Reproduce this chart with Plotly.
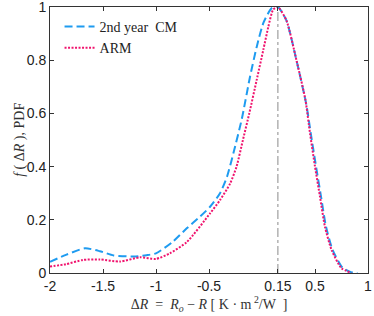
import plotly.graph_objects as go

cm_x = [-2.0, -1.85, -1.67, -1.53, -1.40, -1.21, -1.09, -1.0, -0.84, -0.71, -0.585, -0.49, -0.396,
        -0.33, -0.27, -0.19, -0.113, -0.05, 0.013, 0.09, 0.15, 0.23, 0.325, 0.42, 0.46, 0.51,
        0.557, 0.604, 0.667, 0.76, 0.84, 0.90]
cm_y = [0.042, 0.068, 0.093, 0.082, 0.066, 0.062, 0.067, 0.074, 0.118, 0.168, 0.212, 0.249, 0.30,
        0.362, 0.45, 0.58, 0.738, 0.85, 0.94, 0.995, 1.0, 0.95, 0.80, 0.63, 0.525, 0.40,
        0.287, 0.174, 0.086, 0.02, 0.003, 0.0]

arm_x = [-2.0, -1.85, -1.69, -1.53, -1.34, -1.15, -1.0, -0.87, -0.71, -0.49, -0.396, -0.30,
         -0.24, -0.18, -0.12, -0.05, 0.013, 0.06, 0.105, 0.15, 0.23, 0.325, 0.41, 0.453, 0.50,
         0.547, 0.594, 0.657, 0.75, 0.845]
arm_y = [0.024, 0.033, 0.049, 0.051, 0.043, 0.059, 0.053, 0.074, 0.116, 0.224, 0.274, 0.337,
         0.40, 0.50, 0.60, 0.726, 0.84, 0.926, 0.99, 1.0, 0.95, 0.80, 0.65, 0.525, 0.40,
         0.287, 0.174, 0.086, 0.018, 0.0]

peak_x = 0.15
x_ticks = [-2, -1.5, -1, -0.5, 0.15, 0.5, 1]
x_tick_text = ["-2", "-1.5", "-1", "-0.5", "0.15", "0.5", "1"]
y_ticks = [0, 0.2, 0.4, 0.6, 0.8, 1]
y_tick_text = ["0", "0.2", "0.4", "0.6", "0.8", "1"]

fig = go.Figure()
fig.add_trace(go.Scatter(x=[peak_x, peak_x], y=[0, 1], mode="lines",
                         line=dict(color="#8a8a8a", width=1, dash="dashdot"),
                         showlegend=False, hoverinfo="skip"))
fig.add_trace(go.Scatter(x=cm_x, y=cm_y, mode="lines", name="2nd year  CM",
                         line=dict(color="#1E9BF0", width=2, dash="8px,4px", shape="spline", smoothing=0.6)))
fig.add_trace(go.Scatter(x=arm_x, y=arm_y, mode="lines", name="ARM",
                         line=dict(color="#F0146E", width=2, dash="2px,1.5px", shape="spline", smoothing=0.6)))

axis_common = dict(showgrid=False, zeroline=False, showline=True, linecolor="#333333", linewidth=1,
                   mirror="ticks", ticks="inside", ticklen=4, tickcolor="#333333",
                   ticklabeloverflow="allow", automargin=False,
                   tickfont=dict(family="Liberation Sans, Arial", size=14, color="#222222"))

serif = "Liberation Serif, Times New Roman"
fig.update_layout(
    width=374, height=316,
    margin=dict(l=50, r=6, t=7, b=43),
    paper_bgcolor="white", plot_bgcolor="white",
    xaxis=dict(range=[-2, 1], tickvals=x_ticks, ticktext=x_tick_text,
               title=dict(text="Δ<i>R</i>  =  <i>R<sub>o</sub></i> − <i>R</i> [ K · m<sup> 2</sup>/W  ]",
                          font=dict(family=serif, size=14, color="#333333"),
                          standoff=4),
               **axis_common),
    yaxis=dict(range=[0, 1], tickvals=y_ticks, ticktext=y_tick_text, **axis_common),
    annotations=[dict(text="<i>f</i> ( Δ<i>R</i> ), PDF", textangle=-90,
                      xref="paper", yref="paper", x=-0.095, y=0.5,
                      xanchor="center", yanchor="middle", showarrow=False,
                      font=dict(family=serif, size=14, color="#333333"))],
    legend=dict(x=0.03, y=0.985, xanchor="left", yanchor="top", bgcolor="rgba(0,0,0,0)",
                font=dict(family=serif, size=14, color="#222222"),
                tracegroupgap=0, itemwidth=30),
    showlegend=True,
)

fig.write_html("out.html", config={"displayModeBar": False},
               post_script="document.body.style.margin='0';document.body.style.overflow='hidden';")
